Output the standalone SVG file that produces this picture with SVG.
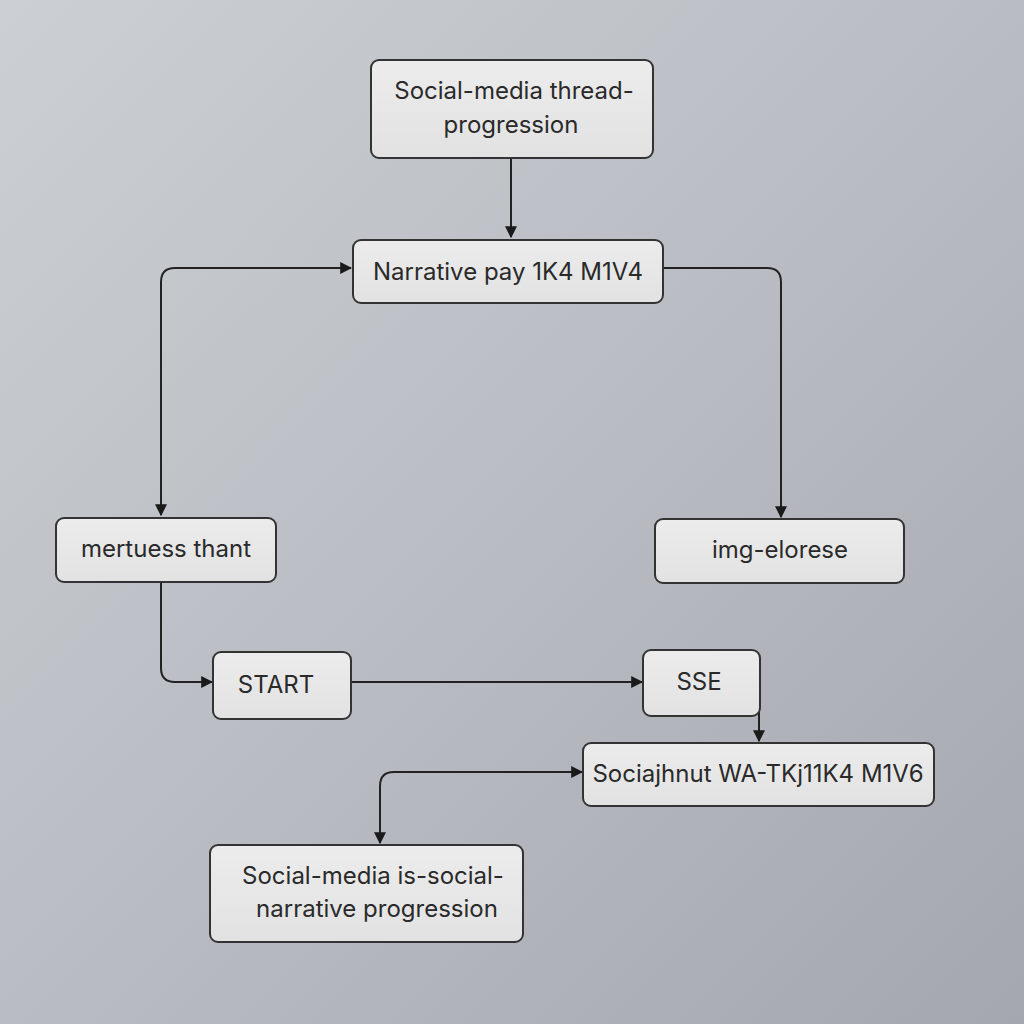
<svg xmlns="http://www.w3.org/2000/svg" width="1024" height="1024" viewBox="0 0 1024 1024">
<defs>
<linearGradient id="bg" x1="0" y1="0" x2="1" y2="1">
<stop offset="0" stop-color="#ccd0d4"/>
<stop offset="0.5" stop-color="#b9bcc2"/>
<stop offset="1" stop-color="#a4a7ad"/>
</linearGradient>
<marker id="ah" viewBox="0 0 10 10" refX="9" refY="5" markerWidth="12" markerHeight="12" markerUnits="userSpaceOnUse" orient="auto-start-reverse">
<path d="M0,0 L10,5 L0,10 Z" fill="#1a1a1a"/>
</marker>
<linearGradient id="nf" x1="0" y1="0" x2="0" y2="1">
<stop offset="0" stop-color="#ececec"/>
<stop offset="1" stop-color="#e2e2e3"/>
</linearGradient>
</defs>
<style>
.node rect{fill:url(#nf);stroke:#333;stroke-width:2}
.node text{font-family:Inter,"Liberation Sans",sans-serif;font-size:24px;fill:#2a2a2a;text-anchor:middle}
.conn path{fill:none;stroke:#222;stroke-width:2}
</style>
<rect width="1024" height="1024" fill="url(#bg)"/>
<g class="conn">
<path d="M511,158 V237" marker-end="url(#ah)"/>
<path d="M161,515 V282 Q161,268 175,268 H351" marker-start="url(#ah)" marker-end="url(#ah)"/>
<path d="M663,268 H767 Q781,268 781,282 V517" marker-end="url(#ah)"/>
<path d="M161,583 V668 Q161,682 175,682 H212" marker-end="url(#ah)"/>
<path d="M351,682 H642" marker-end="url(#ah)"/>
<path d="M759,712 V741" marker-end="url(#ah)"/>
<path d="M380,843 V786 Q380,772 394,772 H582" marker-start="url(#ah)" marker-end="url(#ah)"/>
</g>
<g class="node" id="n1"><rect x="371" y="60" width="282" height="98" rx="8"/><text x="514" y="99">Social-media thread-</text><text x="511" y="133">progression</text></g>
<g class="node" id="n2"><rect x="353" y="240" width="310" height="63" rx="8"/><text x="508" y="280">Narrative pay 1K4 M1V4</text></g>
<g class="node" id="n3"><rect x="56" y="518" width="220" height="64" rx="8"/><text x="166" y="557">mertuess thant</text></g>
<g class="node" id="n4"><rect x="655" y="519" width="249" height="64" rx="8"/><text x="780" y="558">img-elorese</text></g>
<g class="node" id="n5"><rect x="213" y="652" width="138" height="67" rx="8"/><text x="276" y="693">START</text></g>
<g class="node" id="n6"><rect x="643" y="650" width="117" height="66" rx="8"/><text x="699" y="690">SSE</text></g>
<g class="node" id="n7"><rect x="583" y="743" width="351" height="63" rx="8"/><text x="758" y="782">Sociajhnut WA-TKj11K4 M1V6</text></g>
<g class="node" id="n8"><rect x="210" y="845" width="313" height="97" rx="8"/><text x="373" y="884">Social-media is-social-</text><text x="377" y="917">narrative progression</text></g>
</svg>
